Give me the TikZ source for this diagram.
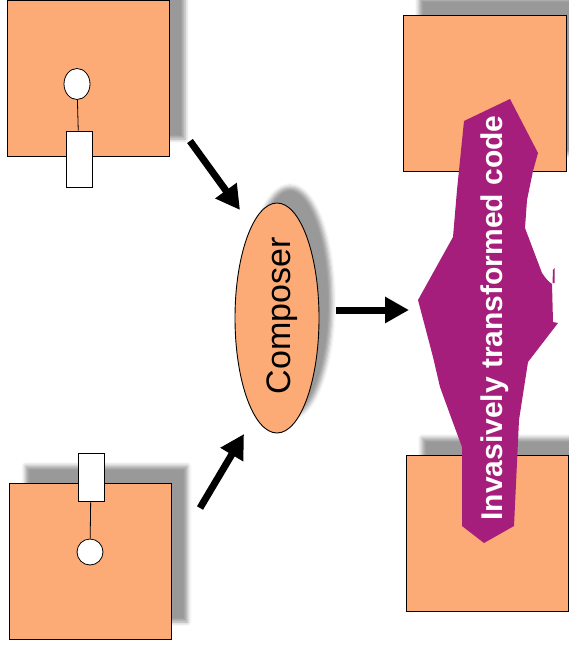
\documentclass[tikz,border=0pt]{standalone}
\usepackage{fontspec}
\setmainfont{Liberation Sans}
\usepackage{tikz}
\usetikzlibrary{shapes.geometric, shadows.blur, arrows.meta}

\definecolor{unitfill}{RGB}{252,170,118}
\definecolor{woven}{RGB}{165,30,123}

\begin{document}
\begin{tikzpicture}[x=1pt,y=1pt,yscale=-1,
  unit/.style={draw=black, line width=0.9pt, fill=unitfill, inner sep=0pt,
    minimum width=162pt, minimum height=156pt,
    blur shadow={shadow xshift=16pt, shadow yshift=17pt, shadow blur radius=4pt}},
  port/.style={draw=black, line width=0.8pt, fill=white, inner sep=0pt, minimum width=26pt},
  hook/.style={ellipse, draw=black, line width=0.8pt, fill=white, inner sep=0pt, minimum width=26pt},
  flow/.style={line width=7pt, -{Triangle[width=25pt,length=24pt]}}]
\useasboundingbox (0,0) rectangle (569,645);

%Input units
\node[unit] (unitA) at (88,78) {};
\node[port, minimum height=56pt] (portA) at (79,159) {};
\node[hook, minimum height=31pt] (hookA) at (77,84) {};
\draw[line width=0.8pt] (hookA) -- (portA);

\node[unit] (unitB) at (90.5,561) {};
\node[port, minimum height=48pt] (portB) at (91,477) {};
\node[hook, minimum height=26pt] (hookB) at (90,552) {};
\draw[line width=0.8pt] (hookB) -- (portB);

%Composer
\node[ellipse, draw=black, line width=0.9pt, fill=unitfill, inner sep=0pt,
  minimum width=84pt, minimum height=230pt,
  blur shadow={shadow xshift=13pt, shadow yshift=16pt, shadow blur radius=4pt}] (composer) at (277,318) {};
\node[rotate=90, anchor=base, font=\fontsize{34}{40}\selectfont] (composertext) at (290,316) {Composer};

%Arrows
\coordinate (inA) at (190,141);
\coordinate (tipA) at (240,210);
\coordinate (inB) at (200,508);
\coordinate (tipB) at (244,434);
\coordinate (outC) at (336,310);
\coordinate (tipC) at (409,310);
\draw[flow] (inA) -- (tipA);
\draw[flow] (inB) -- (tipB);
\draw[flow] (outC) -- (tipC);

%Result units
\node[unit, minimum width=163pt] (unitC) at (484.5,93) {};
\node[unit] (unitD) at (487,533) {};

%Woven code
\fill[woven] (464,121) -- (510,99) -- (538,153) -- (533,171) -- (527,200) -- (525,228)
  -- (542,273) .. controls (546,279) and (549,282) .. (552,284) -- (553,322) -- (558,323) -- (528,362)
  -- (519,420) -- (514,526) -- (484,543) -- (462,526) -- (462,447) -- (452,420)
  -- (440,387) -- (433,357) -- (418,300) -- (453,237) -- (457,190) -- cycle;
\fill[woven] (552.5,283) -- (553,270) -- (554.5,268) -- (554.5,283) -- cycle;

% Text Node
\node[rotate=90, anchor=base, text=white, font=\bfseries\fontsize{30}{36}\selectfont] (wovenlabel) at (502,318) {Invasively transformed code};
\end{tikzpicture}
\end{document}
